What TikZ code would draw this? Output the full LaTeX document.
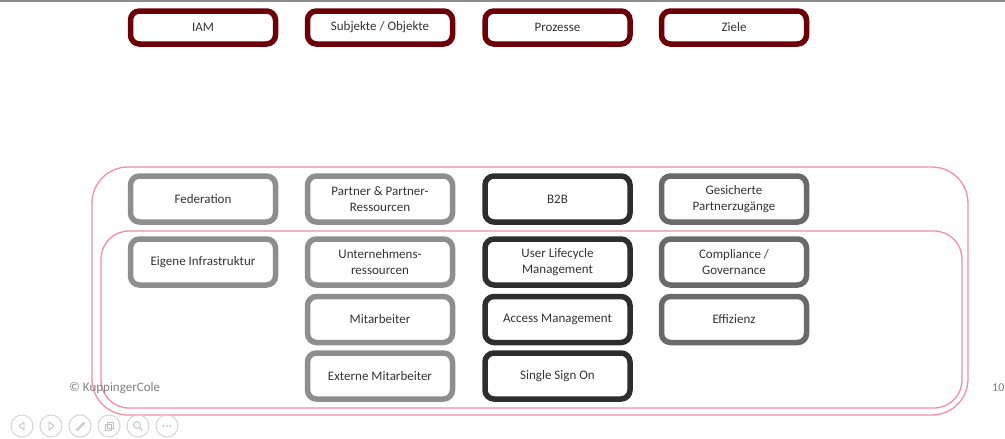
\documentclass[tikz,border=0pt]{standalone}
\usepackage{fontspec}
\setmainfont{Carlito}
\definecolor{headred}{HTML}{6B0008}
\definecolor{lightbox}{HTML}{8E8E8E}
\definecolor{darkbox}{HTML}{2E2E2E}
\definecolor{midbox}{HTML}{6A6A6A}
\definecolor{frame}{HTML}{F28EA4}
\definecolor{txt}{HTML}{333333}
\begin{document}
\begin{tikzpicture}[x=1pt,y=-1pt,
  boxbase/.style={draw, fill=white, line width=5.5pt, rounded corners=9pt,
    minimum width=145pt, align=center, text=txt, font=\fontsize{13}{15.5}\selectfont},
  headbox/.style={boxbase, draw=headred, minimum height=33pt},
  cellbox/.style={boxbase, minimum height=46pt},
  lightcell/.style={cellbox, draw=lightbox},
  darkcell/.style={cellbox, draw=darkbox},
  midcell/.style={cellbox, draw=midbox},
  zone/.style={draw=frame, line width=1.3pt},
  navbtn/.style={draw=black!18, line width=0.9pt, circle, minimum size=22pt, inner sep=0pt},
  glyph/.style={draw=black!25, line width=0.8pt}]
\useasboundingbox (0,0) rectangle (1005,439);
\fill[white] (0,0) rectangle (1005,439);
% slide edge
\draw[black!45, line width=1.6pt] (0,0.8) -- (1005,0.8);

% scope frames
\draw[zone, rounded corners=36pt] (92,167) rectangle (968,415);
\draw[zone, rounded corners=28pt] (101,231) rectangle (962,408);

% header row
\node[headbox] (iam)  at (203,27.5)   {IAM};
\node[headbox] (subj) at (380,27.5)   {Subjekte / Objekte};
\node[headbox] (proz) at (557.5,27.5) {Prozesse};
\node[headbox] (ziel) at (734,27.5)   {Ziele};

% column 1
\node[lightcell] (fed) at (203,199) {Federation};
\node[lightcell] (eig) at (203,262) {Eigene Infrastruktur};
% column 2
\node[lightcell] (par) at (380,199)   {Partner \& Partner-\\Ressourcen};
\node[lightcell] (unt) at (380,262)   {Unternehmens-\\ressourcen};
\node[lightcell] (mit) at (380,319.5) {Mitarbeiter};
\node[lightcell] (ext) at (380,376)   {Externe Mitarbeiter};
% column 3
\node[darkcell] (btb) at (557.5,199)   {B2B};
\node[darkcell] (ulm) at (557.5,262)   {User Lifecycle\\Management};
\node[darkcell] (acc) at (557.5,319.5) {Access Management};
\node[darkcell] (sso) at (557.5,376)   {Single Sign On};
% column 4
\node[midcell] (ges) at (734,199)   {Gesicherte\\Partnerzugänge};
\node[midcell] (com) at (734,262)   {Compliance /\\Governance};
\node[midcell] (eff) at (734,319.5) {Effizienz};

% footer
\node[anchor=west, inner sep=0pt, text=black!50, font=\fontsize{13}{15}\selectfont] (copy) at (69,388) {© KuppingerCole};
\node[anchor=west, inner sep=0pt, text=black!50, font=\fontsize{12}{14}\selectfont] (pageno) at (992,388) {10};

% presenter controls
\node[navbtn] (b1) at (22,426) {};
\node[navbtn] (b2) at (51,426) {};
\node[navbtn] (b3) at (80,426) {};
\node[navbtn] (b4) at (109,426) {};
\node[navbtn] (b5) at (138,426) {};
\node[navbtn] (b6) at (167,426) {};
\draw[glyph, line join=round] ([shift={(2,-4)}]b1.center) -- ([shift={(-3,0)}]b1.center) -- ([shift={(2,4)}]b1.center) -- cycle;
\draw[glyph, line join=round] ([shift={(-2,-4)}]b2.center) -- ([shift={(3,0)}]b2.center) -- ([shift={(-2,4)}]b2.center) -- cycle;
\draw[glyph] ([shift={(-4,4)}]b3.center) -- ([shift={(4,-4)}]b3.center);
\draw[glyph] ([shift={(-3,5)}]b3.center) -- ([shift={(5,-3)}]b3.center);
\draw[glyph] ([shift={(-4,-2)}]b4.center) rectangle ([shift={(2,4)}]b4.center);
\draw[glyph] ([shift={(-2,-4)}]b4.center) rectangle ([shift={(4,2)}]b4.center);
\draw[glyph] ([shift={(-1,-1)}]b5.center) circle (3.5pt);
\draw[glyph] ([shift={(1.5,1.5)}]b5.center) -- ([shift={(4.5,4.5)}]b5.center);
\foreach \dx in {-3.5,0,3.5} \fill[black!30] ([shift={(\dx,0)}]b6.center) circle (0.9pt);
\end{tikzpicture}
\end{document}
